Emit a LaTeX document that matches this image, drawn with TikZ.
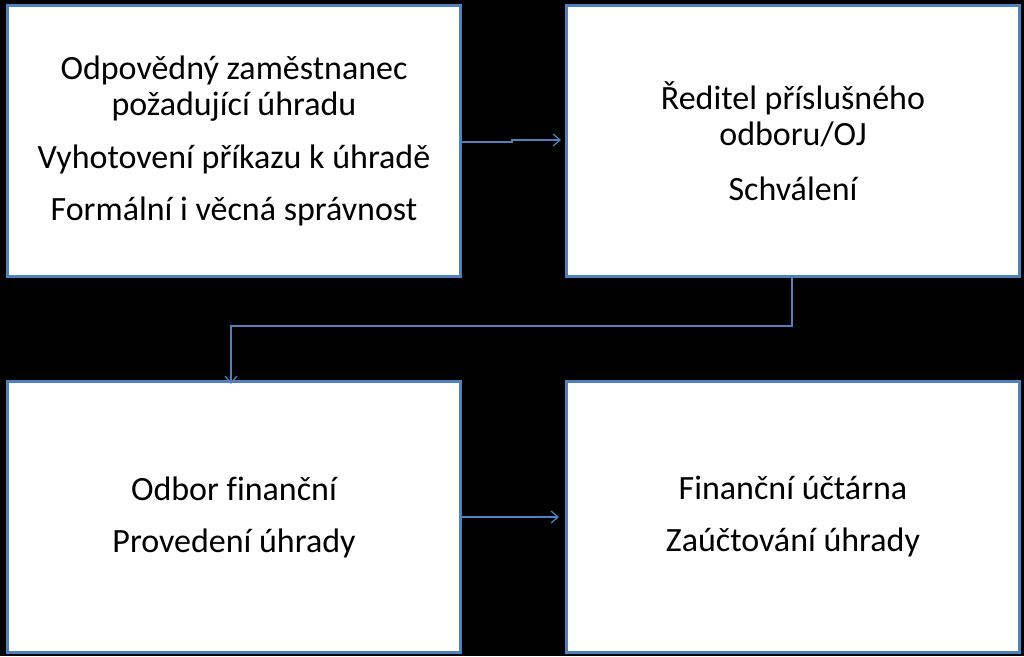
\documentclass[tikz,border=0pt]{standalone}
\usepackage{fontspec}
\setmainfont{Carlito}[Ligatures=NoCommon]
\usetikzlibrary{arrows.meta}
\definecolor{bord}{HTML}{4F81BD}
\begin{document}
\begin{tikzpicture}[x=1pt,y=-1pt,
  box/.style={draw=bord,line width=3pt,fill=white,minimum width=453pt,minimum height=271pt,inner sep=0pt,anchor=north west,align=center,font=\fontsize{34}{36}\selectfont},
  conn/.style={draw=bord,line width=1.3pt,-{Straight Barb[length=7pt,width=12pt]}}]
\fill[black] (0,0) rectangle (1024,656);
\useasboundingbox (0,0) rectangle (1024,656);
\node[box] (a) at (6,4) {Odpovědný zaměstnanec\\požadující úhradu\\[17pt]Vyhotovení příkazu k úhradě\\[16pt]Formální i věcná správnost};
\node[box] (b) at (565,4) {Ředitel příslušného\\odboru/OJ\\[19pt]Schválení};
\node[box] (c) at (6,380) {Odbor finanční\\[16pt]Provedení úhrady};
\node[box] (d) at (565,380) {Finanční účtárna\\[16pt]Zaúčtování úhrady};
\coordinate (k1) at (512,142);
\coordinate (k2) at (512,140);
\draw[conn] (a.east |- k1) -- (k1) -- (k2) -- ([xshift=-4pt]b.west |- k2);
\coordinate (m1) at (792,326);
\coordinate (m2) at (231,326);
\draw[conn] (m1 |- b.south) -- (m1) -- (m2) -- ([yshift=-4pt]m2 |- c.north);
\coordinate (n) at (0,517);
\draw[conn] (a.east |- n) -- ([xshift=-6pt]d.west |- n);
\end{tikzpicture}
\end{document}
